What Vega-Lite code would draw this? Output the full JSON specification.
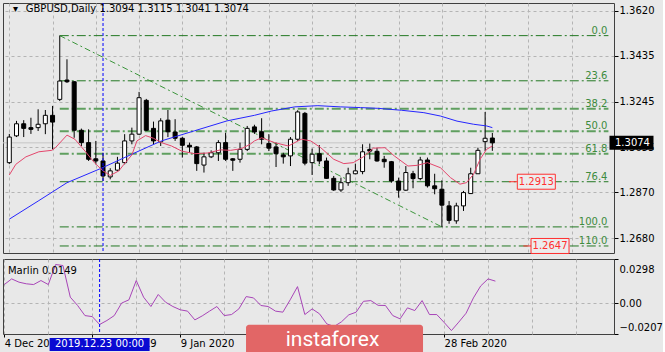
{
"$schema":"https://vega.github.io/schema/vega-lite/v6.json",
"background":"#e8e8e8",
"padding":{"left":2,"top":2,"right":0,"bottom":0},
"spacing":3,
"config":{
 "view":{"stroke":"#404040","strokeWidth":1},
 "axis":{"labelFont":"DejaVu Sans","labelFontSize":10,"labelColor":"#000000","tickColor":"#000000","domain":false,"gridColor":"#b4b4b4","gridDash":[3,3]},
 "text":{"font":"DejaVu Sans","fontSize":10}
},
"datasets":{
 "candles":[
  {"i":0,"o":1.2992,"h":1.3111,"l":1.2986,"c":1.3098},
  {"i":1,"o":1.3103,"h":1.3165,"l":1.3098,"c":1.3153},
  {"i":2,"o":1.3153,"h":1.3168,"l":1.3098,"c":1.3134},
  {"i":3,"o":1.3137,"h":1.3178,"l":1.3111,"c":1.3130},
  {"i":4,"o":1.3137,"h":1.3213,"l":1.3123,"c":1.3151},
  {"i":5,"o":1.3153,"h":1.3210,"l":1.3110,"c":1.3188},
  {"i":6,"o":1.3188,"h":1.3227,"l":1.3047,"c":1.3160},
  {"i":7,"o":1.3254,"h":1.3518,"l":1.3247,"c":1.3330},
  {"i":8,"o":1.3334,"h":1.3420,"l":1.3322,"c":1.3327},
  {"i":9,"o":1.3327,"h":1.3330,"l":1.3095,"c":1.3126},
  {"i":10,"o":1.3126,"h":1.3133,"l":1.3061,"c":1.3075},
  {"i":11,"o":1.3075,"h":1.3130,"l":1.2999,"c":1.3006},
  {"i":12,"o":1.3008,"h":1.3082,"l":1.2985,"c":1.2999},
  {"i":13,"o":1.2999,"h":1.3033,"l":1.2916,"c":1.2937},
  {"i":14,"o":1.2933,"h":1.2969,"l":1.2923,"c":1.2958},
  {"i":15,"o":1.2961,"h":1.3016,"l":1.2958,"c":1.2990},
  {"i":16,"o":1.2992,"h":1.3110,"l":1.2985,"c":1.3082},
  {"i":17,"o":1.3082,"h":1.3137,"l":1.3068,"c":1.3110},
  {"i":18,"o":1.3110,"h":1.3285,"l":1.3107,"c":1.3261},
  {"i":19,"o":1.3250,"h":1.3256,"l":1.3123,"c":1.3126},
  {"i":20,"o":1.3134,"h":1.3162,"l":1.3068,"c":1.3082},
  {"i":21,"o":1.3078,"h":1.3176,"l":1.3061,"c":1.3165},
  {"i":22,"o":1.3168,"h":1.3210,"l":1.3098,"c":1.3120},
  {"i":23,"o":1.3119,"h":1.3172,"l":1.3082,"c":1.3093},
  {"i":24,"o":1.3093,"h":1.3098,"l":1.3013,"c":1.3064},
  {"i":25,"o":1.3064,"h":1.3075,"l":1.3033,"c":1.3057},
  {"i":26,"o":1.3057,"h":1.3061,"l":1.2958,"c":1.2988},
  {"i":27,"o":1.2982,"h":1.3033,"l":1.2951,"c":1.3016},
  {"i":28,"o":1.3016,"h":1.3043,"l":1.3011,"c":1.3033},
  {"i":29,"o":1.3033,"h":1.3085,"l":1.2999,"c":1.3075},
  {"i":30,"o":1.3075,"h":1.3116,"l":1.2999,"c":1.3006},
  {"i":31,"o":1.3008,"h":1.3011,"l":1.2958,"c":1.3002},
  {"i":32,"o":1.3006,"h":1.3075,"l":1.2992,"c":1.3047},
  {"i":33,"o":1.3047,"h":1.3144,"l":1.3040,"c":1.3134},
  {"i":34,"o":1.3140,"h":1.3149,"l":1.3111,"c":1.3119},
  {"i":35,"o":1.3120,"h":1.3176,"l":1.3068,"c":1.3089},
  {"i":36,"o":1.3071,"h":1.3110,"l":1.3040,"c":1.3052},
  {"i":37,"o":1.3057,"h":1.3075,"l":1.2974,"c":1.3029},
  {"i":38,"o":1.3024,"h":1.3033,"l":1.2988,"c":1.3016},
  {"i":39,"o":1.3020,"h":1.3098,"l":1.2978,"c":1.3089},
  {"i":40,"o":1.3089,"h":1.3209,"l":1.3082,"c":1.3202},
  {"i":41,"o":1.3196,"h":1.3202,"l":1.2981,"c":1.2990},
  {"i":42,"o":1.2992,"h":1.3050,"l":1.2941,"c":1.3027},
  {"i":43,"o":1.3029,"h":1.3065,"l":1.2985,"c":1.2999},
  {"i":44,"o":1.2999,"h":1.3013,"l":1.2925,"c":1.2927},
  {"i":45,"o":1.2927,"h":1.2937,"l":1.2875,"c":1.2879},
  {"i":46,"o":1.2879,"h":1.2930,"l":1.2871,"c":1.2909},
  {"i":47,"o":1.2909,"h":1.2971,"l":1.2896,"c":1.2946},
  {"i":48,"o":1.2946,"h":1.2988,"l":1.2944,"c":1.2958},
  {"i":49,"o":1.2955,"h":1.3068,"l":1.2944,"c":1.3037},
  {"i":50,"o":1.3047,"h":1.3071,"l":1.3006,"c":1.3040},
  {"i":51,"o":1.3039,"h":1.3054,"l":1.2996,"c":1.2999},
  {"i":52,"o":1.3006,"h":1.3020,"l":1.2971,"c":1.2996},
  {"i":53,"o":1.2996,"h":1.2999,"l":1.2909,"c":1.2916},
  {"i":54,"o":1.2916,"h":1.2930,"l":1.2847,"c":1.2878},
  {"i":55,"o":1.2878,"h":1.2978,"l":1.2875,"c":1.2951},
  {"i":56,"o":1.2946,"h":1.2958,"l":1.2886,"c":1.2926},
  {"i":57,"o":1.2926,"h":1.3016,"l":1.2919,"c":1.3003},
  {"i":58,"o":1.3003,"h":1.3013,"l":1.2889,"c":1.2896},
  {"i":59,"o":1.2896,"h":1.2946,"l":1.2861,"c":1.2884},
  {"i":60,"o":1.2882,"h":1.2919,"l":1.2726,"c":1.2816},
  {"i":61,"o":1.2813,"h":1.2833,"l":1.2739,"c":1.2753},
  {"i":62,"o":1.2751,"h":1.2826,"l":1.2739,"c":1.2813},
  {"i":63,"o":1.2813,"h":1.2875,"l":1.2792,"c":1.2868},
  {"i":64,"o":1.2864,"h":1.2971,"l":1.2864,"c":1.2946},
  {"i":65,"o":1.2946,"h":1.3054,"l":1.2946,"c":1.3043},
  {"i":66,"o":1.3079,"h":1.3202,"l":1.3040,"c":1.3093},
  {"i":67,"o":1.3094,"h":1.3115,"l":1.3041,"c":1.3074}
 ],
 "blue":[
  {"i":0,"p":1.2758},{"i":4,"p":1.2833},{"i":8,"p":1.2909},{"i":12.7,"p":1.2968},{"i":17,"p":1.3027},{"i":21.1,"p":1.3082},{"i":25.7,"p":1.3124},{"i":30.2,"p":1.3165},{"i":34,"p":1.3188},{"i":36.4,"p":1.3206},{"i":39.6,"p":1.3223},{"i":42.8,"p":1.3228},{"i":45.9,"p":1.3223},{"i":48.7,"p":1.3220},{"i":51.1,"p":1.3217},{"i":54.4,"p":1.3209},{"i":57.5,"p":1.3199},{"i":59.8,"p":1.3185},{"i":62.1,"p":1.3164},{"i":64.4,"p":1.3151},{"i":66.2,"p":1.3144},{"i":67,"p":1.3137}
 ],
 "red":[
  {"i":0,"p":1.2941},{"i":0.9,"p":1.2985},{"i":2.3,"p":1.3016},{"i":4.1,"p":1.3037},{"i":5.9,"p":1.3043},{"i":6.4,"p":1.3054},{"i":8,"p":1.3106},{"i":9.1,"p":1.3089},{"i":10.5,"p":1.3040},{"i":11.8,"p":1.2992},{"i":13,"p":1.2958},{"i":14,"p":1.2939},{"i":15.2,"p":1.2958},{"i":15.9,"p":1.2985},{"i":17,"p":1.3024},{"i":17.7,"p":1.3082},{"i":18.9,"p":1.3104},{"i":20,"p":1.3093},{"i":21.1,"p":1.3075},{"i":22.5,"p":1.3061},{"i":23.9,"p":1.3040},{"i":25.7,"p":1.3029},{"i":27.5,"p":1.3032},{"i":29.3,"p":1.3045},{"i":30.7,"p":1.3043},{"i":32.2,"p":1.3050},{"i":33.4,"p":1.3068},{"i":34,"p":1.3082},{"i":35,"p":1.3095},{"i":36.8,"p":1.3075},{"i":38.7,"p":1.3061},{"i":40.5,"p":1.3089},{"i":41.8,"p":1.3082},{"i":43.2,"p":1.3054},{"i":45,"p":1.3006},{"i":46.4,"p":1.2988},{"i":47.7,"p":1.2992},{"i":49.1,"p":1.3016},{"i":50.5,"p":1.3052},{"i":52.1,"p":1.3054},{"i":53.4,"p":1.3020},{"i":55.3,"p":1.2978},{"i":56.6,"p":1.2981},{"i":58,"p":1.2992},{"i":59.8,"p":1.2971},{"i":61.2,"p":1.2930},{"i":62.5,"p":1.2903},{"i":63.4,"p":1.2909},{"i":64.4,"p":1.2944},{"i":65.3,"p":1.3006},{"i":66.2,"p":1.3047},{"i":67,"p":1.3061}
 ],
 "fib":[
  {"lv":0,"p":1.3518,"i0":7,"i1":83.1},
  {"lv":23.6,"p":1.3331,"i0":7,"i1":83.1},
  {"lv":38.2,"p":1.3215,"i0":7,"i1":83.1},
  {"lv":50,"p":1.3122,"i0":7,"i1":83.1},
  {"lv":61.8,"p":1.3029,"i0":7,"i1":83.1},
  {"lv":76.4,"p":1.2913,"i0":7,"i1":83.1},
  {"lv":100,"p":1.2726,"i0":7,"i1":83.1},
  {"lv":110,"p":1.2647,"i0":7,"i1":83.1}
 ],
 "diag":[{"i":7,"p":1.3518},{"i":60,"p":1.2726}],
 "ask":[{"i":86.3,"p":1.3074,"t":"1.3074"}],
 "cross":[{"i":13}],
 "plab":[
  {"p":1.2913,"i0":69.3,"i1":70.5,"ic":73.1,"t":"1.2913"},
  {"p":1.2647,"i0":71.3,"i1":72.5,"ic":75.0,"t":"1.2647"}
 ],
 "head":[
  {"i":0.5,"p":1.3617,"t":"▾"},
  {"i":2.28,"p":1.3617,"t":"GBPUSD,Daily"},
  {"i":12.5,"p":1.3617,"t":"1.3094 1.3115 1.3041 1.3074"}
 ],
 "marlin":[
  {"i":0,"v":0.0126},{"i":1,"v":0.0164},{"i":2,"v":0.0142},{"i":3,"v":0.0131},{"i":4,"v":0.0126},{"i":5,"v":0.0153},{"i":6,"v":0.0126},{"i":7,"v":0.0261},{"i":8,"v":0.0254},{"i":9,"v":0.0041},
  {"i":10,"v":-0.0015},{"i":11,"v":-0.0083},{"i":12,"v":-0.0090},{"i":13,"v":-0.0143},{"i":14,"v":-0.0116},{"i":15,"v":-0.0083},{"i":16,"v":0.0001},{"i":17,"v":0.0023},{"i":18,"v":0.0153},{"i":19,"v":0.0041},
  {"i":20,"v":-0.0022},{"i":21,"v":0.0059},{"i":22,"v":0.0007},{"i":23,"v":-0.0022},{"i":24,"v":-0.0044},{"i":25,"v":-0.0053},{"i":26,"v":-0.0112},{"i":27,"v":-0.0085},{"i":28,"v":-0.0053},{"i":29,"v":-0.0022},
  {"i":30,"v":-0.0083},{"i":31,"v":-0.0076},{"i":32,"v":-0.0038},{"i":33,"v":0.0045},{"i":34,"v":0.0036},{"i":35,"v":-0.0015},{"i":36,"v":-0.0022},{"i":37,"v":-0.0053},{"i":38,"v":-0.0060},{"i":39,"v":0.0023},
  {"i":40,"v":0.0112},{"i":41,"v":-0.0076},{"i":42,"v":-0.0038},{"i":43,"v":-0.0071},{"i":44,"v":-0.0139},{"i":45,"v":-0.0156},{"i":46,"v":-0.0125},{"i":47,"v":-0.0078},{"i":48,"v":-0.0060},{"i":49,"v":0.0013},
  {"i":50,"v":0.0018},{"i":51,"v":-0.0014},{"i":52,"v":-0.0015},{"i":53,"v":-0.0083},{"i":54,"v":-0.0105},{"i":55,"v":-0.0031},{"i":56,"v":-0.0049},{"i":57,"v":0.0018},{"i":58,"v":-0.0076},{"i":59,"v":-0.0076},
  {"i":60,"v":-0.0129},{"i":61,"v":-0.0184},{"i":62,"v":-0.0127},{"i":63,"v":-0.0067},{"i":64,"v":0.0036},{"i":65,"v":0.0117},{"i":66,"v":0.0164},{"i":67,"v":0.0149}
 ],
 "mlab":[{"i":0.5,"v":0.0198,"t":"Marlin 0.0149"}],
 "dbox":[{"i":13,"v":-0.0277,"t":"2019.12.23 00:00"}],
 "wm":[{"i":45.05,"v":-0.026,"t":"instaforex"}]
},
"vconcat":[
 {
  "width":611,"height":250,
  "layer":[
   {"data":{"name":"fib"},"mark":{"type":"rule","strokeDash":[9,3,2,3],"clip":true},
    "encoding":{
     "x":{"field":"i0","type":"quantitative","scale":{"domain":[-0.18,83.18],"nice":false,"zero":false},
          "axis":{"orient":"bottom","values":[0,6,12,18,24,30,36,42,48,54,60,66,72,78],"tickCount":30,"grid":true,"labels":false,"ticks":false,"domain":false,"title":null}},
     "x2":{"field":"i1"},
     "y":{"field":"p","type":"quantitative","scale":{"domain":[1.26179,1.36531],"nice":false,"zero":false},
          "axis":{"orient":"right","values":[1.362,1.3435,1.3245,1.3055,1.287,1.268],"tickCount":20,"format":".4f","grid":true,"tickSize":4,"labelPadding":1,"domain":false,"title":null}},
     "color":{"condition":{"test":"datum.lv > 30 && datum.lv < 70","value":"#5f9f5f"},"value":"#237823"},
     "strokeWidth":{"condition":{"test":"datum.lv > 30 && datum.lv < 70","value":2},"value":1}
    }},
   {"data":{"name":"ask"},"mark":{"type":"rule","color":"#c6c6c6","strokeWidth":1},
    "encoding":{"y":{"field":"p","type":"quantitative"}}},
   {"data":{"name":"diag"},"mark":{"type":"line","color":"#3c963c","strokeWidth":1,"strokeDash":[6,3,2,3],"clip":true},
    "encoding":{"x":{"field":"i","type":"quantitative"},"y":{"field":"p","type":"quantitative"}}},
   {"data":{"name":"candles"},"mark":{"type":"rule","color":"#000000","strokeWidth":1,"clip":true},
    "encoding":{"x":{"field":"i","type":"quantitative"},"y":{"field":"l","type":"quantitative"},"y2":{"field":"h"}}},
   {"data":{"name":"candles"},"mark":{"type":"bar","width":4,"stroke":"#000000","strokeWidth":1,"clip":true},
    "encoding":{"x":{"field":"i","type":"quantitative"},"y":{"field":"o","type":"quantitative"},"y2":{"field":"c"},
                "fill":{"condition":{"test":"datum.c >= datum.o","value":"#ffffff"},"value":"#000000"}}},
   {"data":{"name":"blue"},"mark":{"type":"line","color":"#2626ff","strokeWidth":1,"clip":true},
    "encoding":{"x":{"field":"i","type":"quantitative"},"y":{"field":"p","type":"quantitative"}}},
   {"data":{"name":"red"},"mark":{"type":"line","color":"#e4466c","strokeWidth":1,"clip":true},
    "encoding":{"x":{"field":"i","type":"quantitative"},"y":{"field":"p","type":"quantitative"}}},
   {"data":{"name":"cross"},"mark":{"type":"rule","color":"#0000ff","strokeWidth":1,"strokeDash":[3,2]},
    "encoding":{"x":{"field":"i","type":"quantitative"}}},
   {"data":{"name":"fib"},"mark":{"type":"text","align":"right","baseline":"alphabetic","dx":-1,"dy":-2,"color":"#3d8b3d"},
    "encoding":{"x":{"field":"i1","type":"quantitative"},"y":{"field":"p","type":"quantitative"},
                "text":{"field":"lv","type":"quantitative","format":".1f"}}},
   {"data":{"name":"plab"},"mark":{"type":"rule","color":"#ff3030","strokeWidth":1},
    "encoding":{"x":{"field":"i0","type":"quantitative"},"x2":{"field":"i1"},"y":{"field":"p","type":"quantitative"}}},
   {"data":{"name":"plab"},"mark":{"type":"tick","orient":"horizontal","size":38,"thickness":15,"fill":"#ececec","stroke":"#ff3030","strokeWidth":1,"opacity":1},
    "encoding":{"x":{"field":"ic","type":"quantitative"},"y":{"field":"p","type":"quantitative"}}},
   {"data":{"name":"plab"},"mark":{"type":"text","color":"#ff3030","align":"center","baseline":"middle"},
    "encoding":{"x":{"field":"ic","type":"quantitative"},"y":{"field":"p","type":"quantitative"},"text":{"field":"t"}}},
   {"data":{"name":"ask"},"mark":{"type":"tick","orient":"horizontal","size":44,"thickness":14,"color":"#000000","opacity":1},
    "encoding":{"x":{"field":"i","type":"quantitative"},"y":{"field":"p","type":"quantitative"}}},
   {"data":{"name":"ask"},"mark":{"type":"text","color":"#ffffff","align":"center","baseline":"middle","dx":1},
    "encoding":{"x":{"field":"i","type":"quantitative"},"y":{"field":"p","type":"quantitative"},"text":{"field":"t"}}},
   {"data":{"name":"head"},"mark":{"type":"text","color":"#000000","align":"left","baseline":"alphabetic"},
    "encoding":{"x":{"field":"i","type":"quantitative"},"y":{"field":"p","type":"quantitative"},"text":{"field":"t"}}}
  ]
 },
 {
  "width":611,"height":75,
  "layer":[
   {"data":{"name":"marlin"},"mark":{"type":"line","color":"#a845b8","strokeWidth":1,"clip":true},
    "encoding":{
     "x":{"field":"i","type":"quantitative","scale":{"domain":[-0.18,83.18],"nice":false,"zero":false},
          "axis":{"orient":"bottom","values":[0,6,12,18,24,30,36,42,48,54,60,66,72,78],"tickCount":30,"grid":true,"domain":false,"title":null,
                  "labelExpr":"datum.value == 0 ? '4 Dec 2019' : datum.value == 12 ? '20 Dec 2019' : datum.value == 24 ? '9 Jan 2020' : datum.value == 60 ? '28 Feb 2020' : ''",
                  "labelAlign":"left","labelOverlap":false,"labelFlush":false,"labelBound":false,"tickSize":3,"labelPadding":1,
                  "tickOpacity":{"condition":{"test":"datum.value % 12 == 0 && datum.value <= 60","value":1},"value":0}}},
     "y":{"field":"v","type":"quantitative","scale":{"domain":[-0.0207,0.0298],"nice":false,"zero":false},
          "axis":{"orient":"right","values":[0.0298,0,-0.0207],"tickCount":10,"labelExpr":"datum.value == 0 ? '0.00' : format(datum.value, '.4f')","grid":true,"labelOverlap":false,
                  "gridOpacity":{"condition":{"test":"datum.value == 0","value":1},"value":0},
                  "labelOffset":{"condition":[{"test":"datum.value > 0.02","value":10},{"test":"datum.value < -0.02","value":-7}],"value":0},
                  "tickSize":4,"labelPadding":1,"domain":false,"title":null}}
    }},
   {"data":{"name":"cross"},"mark":{"type":"rule","color":"#0000ff","strokeWidth":1,"strokeDash":[3,2]},
    "encoding":{"x":{"field":"i","type":"quantitative"}}},
   {"data":{"name":"mlab"},"mark":{"type":"text","color":"#000000","align":"left","baseline":"alphabetic"},
    "encoding":{"x":{"field":"i","type":"quantitative"},"y":{"field":"v","type":"quantitative"},"text":{"field":"t"}}},
   {"data":{"name":"dbox"},"mark":{"type":"tick","orient":"horizontal","size":100,"thickness":13,"color":"#0a0ad2","opacity":1},
    "encoding":{"x":{"field":"i","type":"quantitative"},"y":{"field":"v","type":"quantitative"}}},
   {"data":{"name":"dbox"},"mark":{"type":"text","color":"#ffffff","align":"center","baseline":"middle"},
    "encoding":{"x":{"field":"i","type":"quantitative"},"y":{"field":"v","type":"quantitative"},"text":{"field":"t"}}},
   {"data":{"name":"wm"},"mark":{"type":"tick","orient":"horizontal","size":177,"thickness":34,"color":"#e26666","opacity":1,"cornerRadius":3},
    "encoding":{"x":{"field":"i","type":"quantitative"},"y":{"field":"v","type":"quantitative"}}},
   {"data":{"name":"wm"},"mark":{"type":"text","color":"#ffffff","align":"center","baseline":"middle","dx":-2,"dy":-2,"font":"Roboto","fontSize":21},
    "encoding":{"x":{"field":"i","type":"quantitative"},"y":{"field":"v","type":"quantitative"},"text":{"field":"t"}}}
  ]
 }
]
}
